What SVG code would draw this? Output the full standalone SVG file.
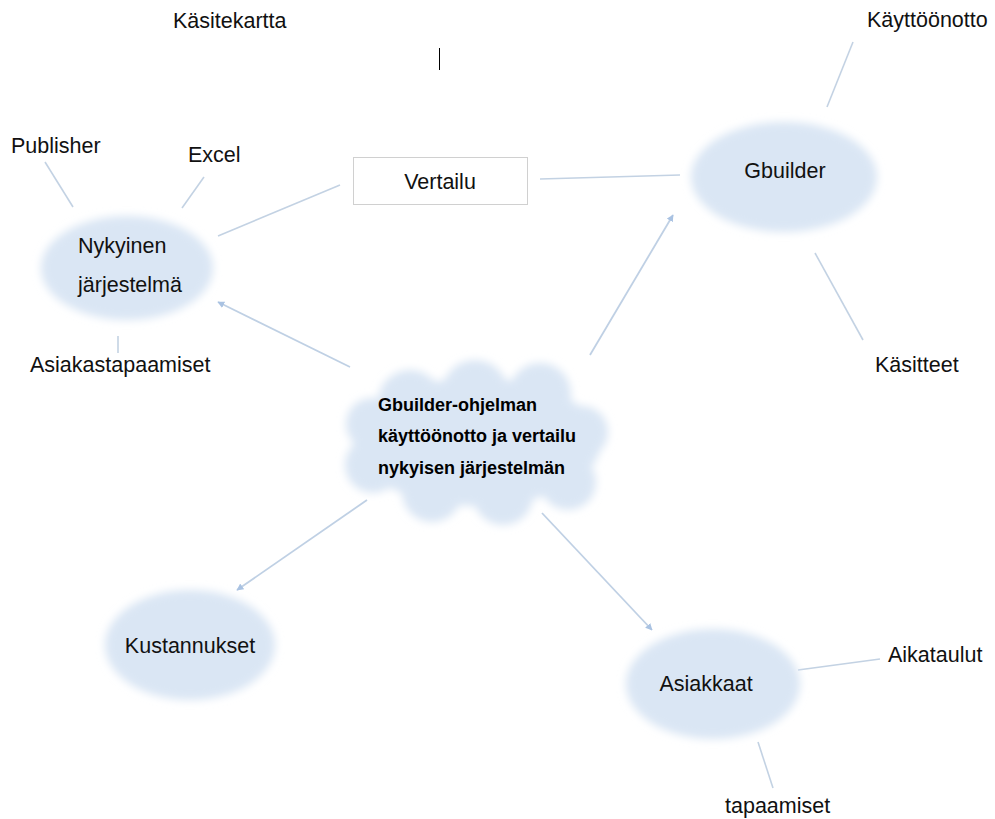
<svg xmlns="http://www.w3.org/2000/svg" width="995" height="819" viewBox="0 0 995 819">
<defs>
<style>
.t{font-family:"Liberation Sans",Arial,sans-serif;font-size:21.5px;fill:#111}
.b{font-family:"Liberation Sans",Arial,sans-serif;font-size:18px;font-weight:bold;fill:#000}
.bub{fill:#dae6f4;filter:url(#soft)}
.ln{stroke:#c3d2e3;stroke-width:1.6;fill:none}
.ar{stroke:#bfd0e4;stroke-width:1.8;fill:none;marker-end:url(#ah)}
</style>
<filter id="soft" x="-20%" y="-20%" width="140%" height="140%"><feGaussianBlur stdDeviation="4"/></filter>
<marker id="ah" viewBox="0 0 10 10" refX="9" refY="5" markerWidth="7" markerHeight="7" markerUnits="userSpaceOnUse" orient="auto"><path d="M0,0 L10,5 L0,10 z" fill="#a9c2e2"/></marker>
</defs>
<rect width="995" height="819" fill="#fff"/>
<text class="t" x="173" y="28">Käsitekartta</text>
<line x1="439.5" y1="48" x2="439.5" y2="70" stroke="#000" stroke-width="1"/>
<g id="connectors">
<line class="ln" x1="853" y1="42" x2="827" y2="107"/>
<line class="ln" x1="45" y1="162" x2="73" y2="207"/>
<line class="ln" x1="204" y1="177" x2="182" y2="208"/>
<line class="ln" x1="340" y1="185" x2="218" y2="236"/>
<line class="ln" x1="540" y1="179" x2="680" y2="175"/>
<line class="ln" x1="815" y1="253" x2="863" y2="340"/>
<line class="ln" x1="118" y1="336" x2="118" y2="353"/>
<line class="ln" x1="798" y1="670" x2="880" y2="659"/>
<line class="ln" x1="758" y1="742" x2="773" y2="788"/>
<line class="ar" x1="350" y1="367" x2="218" y2="302"/>
<line class="ar" x1="590" y1="355" x2="673" y2="215"/>
<line class="ar" x1="367" y1="500" x2="237" y2="590"/>
<line class="ar" x1="542" y1="513" x2="652" y2="630"/>
</g>
<g id="nykyinen">
<ellipse class="bub" cx="127" cy="268" rx="86" ry="52"/>
<text class="t" x="78" y="253">Nykyinen</text>
<text class="t" x="78" y="292">järjestelmä</text>
</g>
<g id="gbuilder">
<ellipse class="bub" cx="784" cy="177" rx="93" ry="55"/>
<text class="t" x="785" y="178" text-anchor="middle">Gbuilder</text>
</g>
<g id="vertailu">
<rect x="353.5" y="157.5" width="174" height="47" fill="#fff" stroke="#d0d0d0" stroke-width="1"/>
<text class="t" x="440" y="189" text-anchor="middle">Vertailu</text>
</g>
<g id="kustannukset">
<ellipse class="bub" cx="190" cy="645" rx="85" ry="55"/>
<text class="t" x="190" y="653" text-anchor="middle">Kustannukset</text>
</g>
<g id="asiakkaat">
<ellipse class="bub" cx="713" cy="684" rx="87" ry="55"/>
<text class="t" x="706" y="691" text-anchor="middle">Asiakkaat</text>
</g>
<g id="keskus">
<g class="bub">
<ellipse cx="477" cy="442" rx="124" ry="64"/>
<circle cx="410" cy="402" r="32"/>
<circle cx="475" cy="393" r="33"/>
<circle cx="540" cy="394" r="31"/>
<circle cx="582" cy="432" r="26"/>
<circle cx="568" cy="482" r="28"/>
<circle cx="503" cy="495" r="30"/>
<circle cx="432" cy="492" r="30"/>
<circle cx="373" cy="465" r="28"/>
<circle cx="372" cy="424" r="26"/>
</g>
<text class="b" x="378" y="411">Gbuilder-ohjelman</text>
<text class="b" x="378" y="442">käyttöönotto ja vertailu</text>
<text class="b" x="378" y="474">nykyisen järjestelmän</text>
</g>
<g id="labels">
<text class="t" x="867" y="27">Käyttöönotto</text>
<text class="t" x="11" y="153">Publisher</text>
<text class="t" x="188" y="162">Excel</text>
<text class="t" x="875" y="372">Käsitteet</text>
<text class="t" x="30" y="372">Asiakastapaamiset</text>
<text class="t" x="888" y="662">Aikataulut</text>
<text class="t" x="725" y="813">tapaamiset</text>
</g>
</svg>
